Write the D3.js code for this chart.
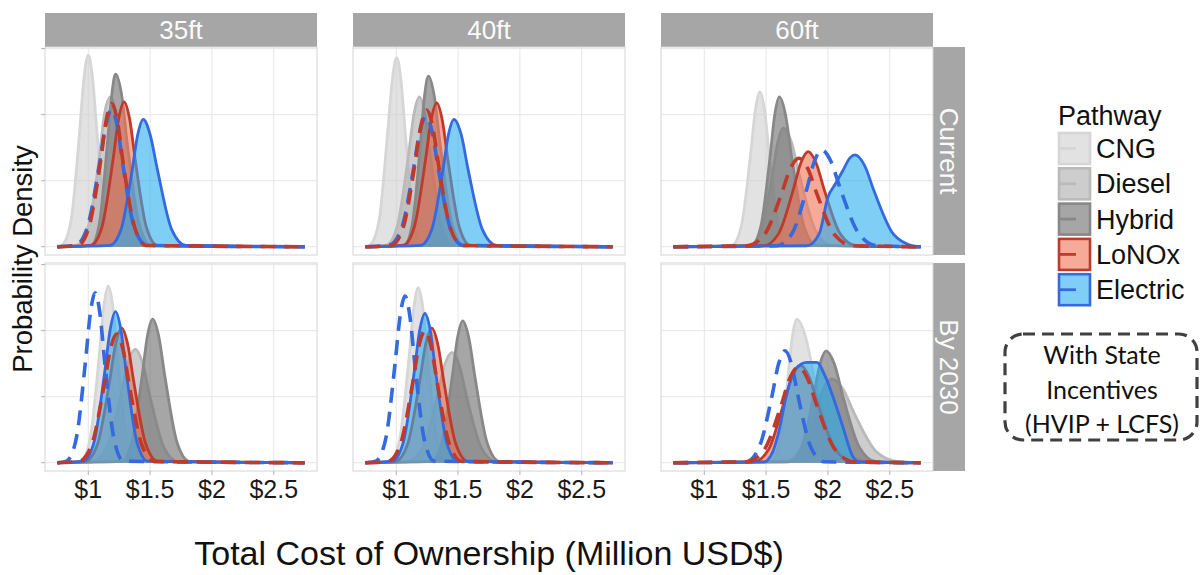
<!DOCTYPE html>
<html lang="en">
<head>
<meta charset="utf-8"/>
<script src="https://cdn.jsdelivr.net/npm/d3@7"></script>
<style>body{margin:0;background:#fff;}</style>
</head>
<body>
<div id="chart"></div>
<script>
// categories
var sizes = ["35ft", "40ft", "60ft"];
var periods = ["Current", "By 2030"];
var pathways = ["CNG", "Diesel", "Hybrid", "LoNOx", "Electric"];
var xTicks = [1, 1.5, 2, 2.5];
var yTicks = [0, 2, 4, 6];
var costRange = [0.75, 2.75];

// density curves, [cost (M$), density]
// *Inc = with state incentives (dashed)
var current35 = {
    CNG:      [[0.79,0.06],[0.86,0.78],[0.93,3.48],[0.965,5.1],[1.0,5.8],[1.035,5.1],[1.07,3.48],[1.14,0.78],[1.21,0.06]],
    Diesel:   [[0.91,0.05],[1.0,0.61],[1.09,2.72],[1.13,4.0],[1.18,4.54],[1.225,4.0],[1.27,2.72],[1.36,0.61],[1.45,0.05]],
    Hybrid:   [[1.025,0.05],[1.09,0.71],[1.155,3.14],[1.19,4.6],[1.22,5.23],[1.27,4.6],[1.315,3.14],[1.41,0.71],[1.505,0.05]],
    LoNOx:    [[1.02,0.04],[1.11,0.59],[1.2,2.63],[1.245,3.86],[1.29,4.39],[1.335,3.86],[1.38,2.63],[1.47,0.59],[1.56,0.04]],
    Electric: [[1.175,0.04],[1.265,0.52],[1.355,2.32],[1.4,3.4],[1.445,3.86],[1.5,3.4],[1.56,2.32],[1.675,0.52],[1.79,0.04]],
    ElectricInc: [[0.895,0.04],[0.99,0.56],[1.09,2.49],[1.14,3.65],[1.185,4.15],[1.235,3.65],[1.28,2.49],[1.375,0.56],[1.475,0.04]],
    LoNOxInc: [[0.915,0.04],[1.005,0.59],[1.1,2.6],[1.145,3.82],[1.19,4.34],[1.235,3.82],[1.28,2.6],[1.375,0.59],[1.465,0.04]]
};
var current40 = {
    CNG:      [[0.79,0.06],[0.86,0.77],[0.93,3.44],[0.968,5.04],[1.003,5.73],[1.038,5.04],[1.073,3.44],[1.143,0.77],[1.213,0.06]],
    Diesel:   [[0.92,0.05],[1.007,0.61],[1.097,2.72],[1.142,4.0],[1.187,4.54],[1.232,4.0],[1.277,2.72],[1.367,0.61],[1.457,0.05]],
    Hybrid:   [[1.065,0.05],[1.13,0.7],[1.195,3.1],[1.228,4.55],[1.26,5.17],[1.308,4.55],[1.355,3.1],[1.45,0.7],[1.545,0.05]],
    LoNOx:    [[1.055,0.04],[1.145,0.59],[1.236,2.62],[1.282,3.84],[1.327,4.36],[1.372,3.84],[1.418,2.62],[1.51,0.59],[1.6,0.04]],
    Electric: [[1.197,0.04],[1.287,0.52],[1.377,2.32],[1.422,3.4],[1.467,3.86],[1.525,3.4],[1.582,2.32],[1.697,0.52],[1.812,0.04]],
    ElectricInc: [[0.94,0.04],[1.04,0.53],[1.14,2.37],[1.19,3.48],[1.24,3.95],[1.29,3.48],[1.34,2.37],[1.44,0.53],[1.54,0.04]],
    LoNOxInc: [[0.96,0.04],[1.054,0.56],[1.15,2.48],[1.198,3.64],[1.246,4.14],[1.294,3.64],[1.342,2.48],[1.438,0.56],[1.534,0.04]]
};
var current60 = {
    CNG:      [[1.225,0.05],[1.3,0.63],[1.375,2.81],[1.413,4.13],[1.45,4.69],[1.488,4.13],[1.525,2.81],[1.6,0.63],[1.675,0.05]],
    Diesel:   [[1.37,0.04],[1.46,0.49],[1.55,2.16],[1.595,3.17],[1.64,3.6],[1.705,3.17],[1.77,2.16],[1.9,0.49],[2.03,0.04]],
    Hybrid:   [[1.382,0.05],[1.457,0.61],[1.532,2.72],[1.57,4.0],[1.607,4.54],[1.657,4.0],[1.707,2.72],[1.807,0.61],[1.907,0.05]],
    LoNOx:    [[1.48,0.03],[1.6,0.39],[1.72,1.73],[1.78,2.53],[1.84,2.88],[1.905,2.53],[1.97,1.73],[2.1,0.39],[2.23,0.03]],
    Electric: [[1.83,0.03],[1.93,0.4],[2.0,1.5],[2.06,1.9],[2.12,2.3],[2.18,2.7],[2.22,2.78],[2.298,2.45],[2.375,1.67],[2.53,0.38],[2.685,0.03]],
    ElectricInc: [[1.59,0.03],[1.71,0.4],[1.83,1.76],[1.89,2.58],[1.95,2.93],[2.025,2.58],[2.1,1.76],[2.25,0.4],[2.4,0.03]],
    LoNOxInc: [[1.345,0.03],[1.485,0.36],[1.625,1.61],[1.695,2.36],[1.765,2.68],[1.838,2.36],[1.91,1.61],[2.055,0.36],[2.2,0.03]]
};
var future35 = {
    CNG:      [[0.94,0.05],[1.014,0.72],[1.088,3.22],[1.125,4.72],[1.162,5.36],[1.199,4.72],[1.236,3.22],[1.31,0.72],[1.384,0.05]],
    Diesel:   [[1.032,0.03],[1.148,0.46],[1.264,2.06],[1.322,3.03],[1.38,3.44],[1.438,3.03],[1.496,2.06],[1.612,0.46],[1.728,0.03]],
    Hybrid:   [[1.265,0.04],[1.35,0.59],[1.435,2.61],[1.478,3.83],[1.52,4.35],[1.57,3.83],[1.62,2.61],[1.72,0.59],[1.82,0.04]],
    LoNOx:    [[0.976,0.04],[1.074,0.55],[1.172,2.45],[1.221,3.59],[1.27,4.08],[1.319,3.59],[1.368,2.45],[1.466,0.55],[1.564,0.04]],
    Electric: [[0.959,0.05],[1.046,0.62],[1.133,2.75],[1.177,4.03],[1.22,4.58],[1.264,4.03],[1.307,2.75],[1.394,0.62],[1.481,0.05]],
    ElectricInc: [[0.824,0.05],[0.901,0.7],[0.978,3.09],[1.017,4.53],[1.055,5.15],[1.094,4.53],[1.132,3.09],[1.209,0.7],[1.286,0.05]],
    LoNOxInc: [[0.924,0.04],[1.026,0.53],[1.128,2.34],[1.179,3.43],[1.23,3.9],[1.281,3.43],[1.332,2.34],[1.434,0.53],[1.536,0.04]]
};
var future40 = {
    CNG:      [[0.953,0.05],[1.028,0.72],[1.103,3.18],[1.141,4.66],[1.178,5.3],[1.216,4.66],[1.253,3.18],[1.328,0.72],[1.403,0.05]],
    Diesel:   [[1.093,0.03],[1.212,0.45],[1.331,2.0],[1.39,2.94],[1.45,3.34],[1.51,2.94],[1.569,2.0],[1.688,0.45],[1.807,0.03]],
    Hybrid:   [[1.282,0.04],[1.367,0.58],[1.452,2.58],[1.495,3.78],[1.537,4.3],[1.587,3.78],[1.637,2.58],[1.737,0.58],[1.837,0.04]],
    LoNOx:    [[0.993,0.04],[1.091,0.55],[1.189,2.45],[1.238,3.59],[1.287,4.08],[1.336,3.59],[1.385,2.45],[1.483,0.55],[1.581,0.04]],
    Electric: [[0.968,0.05],[1.056,0.61],[1.144,2.71],[1.188,3.98],[1.232,4.52],[1.276,3.98],[1.32,2.71],[1.408,0.61],[1.496,0.05]],
    ElectricInc: [[0.833,0.05],[0.912,0.68],[0.991,3.03],[1.031,4.44],[1.07,5.05],[1.11,4.44],[1.149,3.03],[1.228,0.68],[1.307,0.05]],
    LoNOxInc: [[0.932,0.04],[1.032,0.54],[1.132,2.4],[1.182,3.52],[1.232,4.0],[1.282,3.52],[1.332,2.4],[1.432,0.54],[1.532,0.04]]
};
var future60 = {
    CNG:      [[1.538,0.04],[1.608,0.59],[1.678,2.61],[1.713,3.83],[1.748,4.35],[1.818,3.83],[1.888,2.61],[2.028,0.7],[2.168,0.2],[2.4,0.02]],
    Diesel:   [[1.64,0.03],[1.77,0.34],[1.9,1.52],[1.965,2.24],[2.03,2.54],[2.12,2.24],[2.21,1.52],[2.39,0.34],[2.57,0.03]],
    Hybrid:   [[1.685,0.03],[1.785,0.46],[1.885,2.03],[1.935,2.98],[1.985,3.39],[2.053,2.98],[2.12,2.03],[2.255,0.46],[2.39,0.03]],
    LoNOx:    [[1.4,0.03],[1.52,0.4],[1.64,1.76],[1.71,2.59],[1.78,2.94],[1.85,2.59],[1.92,1.76],[2.06,0.4],[2.2,0.03]],
    Electric: [[1.48,0.02],[1.55,0.3],[1.6,0.9],[1.667,2.08],[1.74,2.85],[1.83,3.04],[1.91,3.04],[1.98,2.6],[2.05,1.9],[2.12,1.1],[2.2,0.2],[2.26,0.02]],
    ElectricInc: [[1.338,0.03],[1.443,0.46],[1.548,2.03],[1.6,2.98],[1.653,3.39],[1.706,2.98],[1.758,2.03],[1.863,0.46],[1.968,0.03]],
    LoNOxInc: [[1.346,0.03],[1.484,0.39],[1.622,1.74],[1.691,2.55],[1.76,2.9],[1.835,2.55],[1.91,1.74],[2.06,0.39],[2.21,0.03]]
};

var grid = [[current35, current40, current60], [future35, future40, future60]];

// draw order: [key, pathway, incentive]
var series = [
    ["CNG", "CNG", false], ["Diesel", "Diesel", false], ["Hybrid", "Hybrid", false],
    ["LoNOx", "LoNOx", false], ["Electric", "Electric", false],
    ["ElectricInc", "Electric", true], ["LoNOxInc", "LoNOx", true]
];

var fillCol = d3.scaleOrdinal().domain(pathways)
    .range(["#cfcfcf", "#acacac", "#6b6b6b", "#f07252", "#2aaef0"]);
var lineCol = d3.scaleOrdinal().domain(pathways)
    .range(["#d6d6d6", "#bababa", "#888888", "#bf3a2b", "#3569e0"]);

var W = 1203, H = 575;
var colLeft = [45, 353, 661], panelW = 272;
var rowTop = [47, 263], panelH = 208;

var svg = d3.select("#chart").append("svg")
    .attr("width", W).attr("height", H)
    .style("font-family", "'Liberation Sans', Arial, sans-serif");

var x = d3.scaleLinear().domain([0.65, 2.85]).range([0, panelW]);
var y = d3.scaleLinear().domain([-0.25, 6.05]).range([panelH, 0]);

var area = d3.area()
    .x(function (d) { return x(d[0]); })
    .y0(y(0))
    .y1(function (d) { return y(d[1]); })
    .curve(d3.curveMonotoneX);
var line = d3.line()
    .x(function (d) { return x(d[0]); })
    .y(function (d) { return y(d[1]); })
    .curve(d3.curveMonotoneX);

svg.append("defs").append("clipPath").attr("id", "clip")
    .append("rect").attr("width", panelW).attr("height", panelH);

// column strips
sizes.forEach(function (s, c) {
    svg.append("rect").attr("x", colLeft[c]).attr("y", 13)
        .attr("width", panelW).attr("height", 34).attr("fill", "#a6a6a6");
    svg.append("text").attr("x", colLeft[c] + panelW / 2).attr("y", 39)
        .attr("text-anchor", "middle").attr("font-size", 26).attr("fill", "#fafafa").text(s);
});
// row strips
periods.forEach(function (p, r) {
    svg.append("rect").attr("x", colLeft[2] + panelW).attr("y", rowTop[r])
        .attr("width", 32).attr("height", panelH).attr("fill", "#a6a6a6");
    svg.append("text")
        .attr("transform", "translate(" + (colLeft[2] + panelW + 7) + "," + (rowTop[r] + panelH / 2) + ") rotate(90)")
        .attr("text-anchor", "middle").attr("font-size", 26).attr("fill", "#fafafa").text(p);
});

periods.forEach(function (p, r) {
    sizes.forEach(function (s, c) {
        var g = svg.append("g").attr("transform", "translate(" + colLeft[c] + "," + rowTop[r] + ")");
        g.append("rect").attr("width", panelW).attr("height", panelH).attr("fill", "#fff");

        g.selectAll(".vx").data(xTicks).enter().append("line")
            .attr("x1", function (d) { return x(d); }).attr("x2", function (d) { return x(d); })
            .attr("y1", 0).attr("y2", panelH).attr("stroke", "#e6e6e6").attr("stroke-width", 1);
        g.selectAll(".hy").data(yTicks).enter().append("line")
            .attr("y1", function (d) { return y(d); }).attr("y2", function (d) { return y(d); })
            .attr("x1", 0).attr("x2", panelW).attr("stroke", "#e6e6e6").attr("stroke-width", 1);

        var data = grid[r][c];
        var plot = g.append("g").attr("clip-path", "url(#clip)");
        series.forEach(function (sr) {
            var pts = [[costRange[0], 0]].concat(data[sr[0]], [[costRange[1], 0]]);
            if (!sr[2]) {
                plot.append("path").datum(pts).attr("d", area)
                    .attr("fill", fillCol(sr[1])).attr("fill-opacity", 0.6);
            }
            plot.append("path").datum(pts).attr("d", line)
                .attr("fill", "none")
                .attr("stroke", lineCol(sr[1]))
                .attr("stroke-width", sr[2] ? 3.6 : 2.8)
                .attr("stroke-dasharray", sr[2] ? "15,9" : null)
                .attr("stroke-linejoin", "round");
        });

        g.append("rect").attr("width", panelW).attr("height", panelH)
            .attr("fill", "none").attr("stroke", "#d4d4d4").attr("stroke-width", 1);

        if (c === 0) {
            g.selectAll(".ty").data(yTicks).enter().append("line")
                .attr("x1", -4).attr("x2", 0)
                .attr("y1", function (d) { return y(d); }).attr("y2", function (d) { return y(d); })
                .attr("stroke", "#b3b3b3");
        }
        if (r === 1) {
            g.selectAll(".tx").data(xTicks).enter().append("line")
                .attr("x1", function (d) { return x(d); }).attr("x2", function (d) { return x(d); })
                .attr("y1", panelH).attr("y2", panelH + 4).attr("stroke", "#b3b3b3");
            g.selectAll(".lx").data(xTicks).enter().append("text")
                .attr("x", function (d) { return x(d); }).attr("y", panelH + 27)
                .attr("text-anchor", "middle").attr("font-size", 25).attr("fill", "#1a1a1a")
                .text(function (d) { return "$" + d; });
        }
    });
});

// axis titles
svg.append("text").attr("x", 489).attr("y", 565).attr("text-anchor", "middle")
    .attr("font-size", 34).attr("fill", "#111").text("Total Cost of Ownership (Million USD$)");
svg.append("text").attr("transform", "translate(32,259) rotate(-90)").attr("text-anchor", "middle")
    .attr("font-size", 27.5).attr("fill", "#111").text("Probability Density");

// legend
var lg = svg.append("g").attr("transform", "translate(1058,0)");
lg.append("text").attr("x", 0).attr("y", 125).attr("font-size", 27).attr("fill", "#111").text("Pathway");
pathways.forEach(function (p, i) {
    var ky = 132 + i * 35.3;
    lg.append("rect").attr("x", 1).attr("y", ky + 1).attr("width", 31).attr("height", 31)
        .attr("fill", fillCol(p)).attr("fill-opacity", 0.6)
        .attr("stroke", lineCol(p)).attr("stroke-width", 2.6);
    lg.append("line").attr("x1", 2).attr("x2", 18).attr("y1", ky + 16.5).attr("y2", ky + 16.5)
        .attr("stroke", lineCol(p)).attr("stroke-width", 2.8);
    lg.append("text").attr("x", 38).attr("y", ky + 26).attr("font-size", 27).attr("fill", "#111").text(p);
});

// incentive note
svg.append("rect").attr("x", 1005).attr("y", 334).attr("width", 192).attr("height", 106)
    .attr("rx", 18).attr("fill", "none").attr("stroke", "#404040")
    .attr("stroke-width", 3.2).attr("stroke-dasharray", "12,7");
var note = ["With State", "Incentives", "(HVIP + LCFS)"];
svg.selectAll(".note").data(note).enter().append("text")
    .attr("x", 1102).attr("y", function (d, i) { return 364 + i * 34.5; })
    .attr("text-anchor", "middle").attr("font-size", 25)
    .style("font-family", "Lato, 'Open Sans', sans-serif").attr("fill", "#111")
    .text(function (d) { return d; });
</script>
</body>
</html>
